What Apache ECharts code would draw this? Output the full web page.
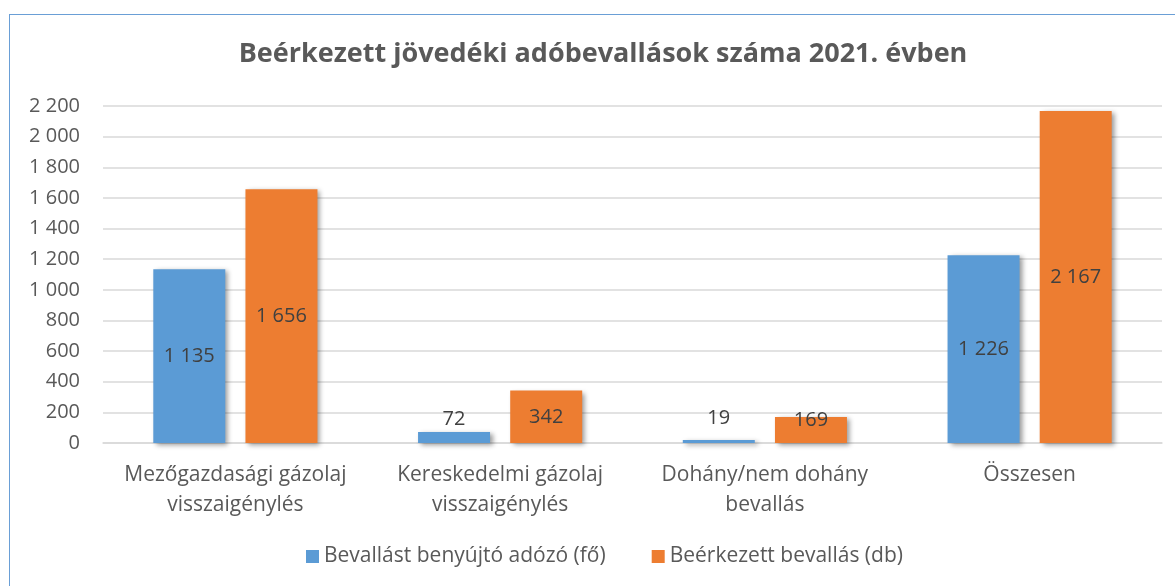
<!DOCTYPE html>
<html>
<head>
<meta charset="utf-8">
<script src="https://cdn.jsdelivr.net/npm/echarts@6/dist/echarts.min.js"></script>
<style>
  html, body { margin: 0; padding: 0; background: #fff; }
  #wrap { position: relative; width: 1175px; height: 586px; overflow: hidden; }
  #frame { position: absolute; left: 9px; top: 14px; width: 1200px; height: 620px; border: 1px solid #6a9fd6; box-sizing: border-box; }
  #chart { position: absolute; left: 0; top: 0; width: 1175px; height: 586px; }
</style>
</head>
<body>
<div id="wrap">
  <div id="frame"></div>
  <div id="chart"></div>
</div>
<script>
const categories = [
  'Mezőgazdasági gázolaj\nvisszaigénylés',
  'Kereskedelmi gázolaj\nvisszaigénylés',
  'Dohány/nem dohány\nbevallás',
  'Összesen'
]
const seriesNames = ['Bevallást benyújtó adózó (fő)', 'Beérkezett bevallás (db)']
const taxpayers = [1135, 72, 19, 1226]
const returns = [1656, 342, 169, 2167]

const font = '"Open Sans", sans-serif'
const fmt = v => String(v).replace(/\B(?=(\d{3})+(?!\d))/g, ' ')

// label placement per bar, roughly like the excel original
const bluePos = [
  { position: 'inside' },
  { position: 'top', distance: 3 },
  { position: 'top', distance: 12 },
  { position: 'inside' }
]
const orangePos = [
  { position: 'inside' },
  { position: 'inside' },
  { position: 'insideTop', distance: 5, offset: [0, -12] },
  { position: 'inside' }
]

const shadow = {
  shadowBlur: 5,
  shadowOffsetX: 3,
  shadowOffsetY: 2,
  shadowColor: 'rgba(0,0,0,0.4)'
}

const makeData = (vals, pos) => vals.map((v, i) => ({ value: v, label: pos[i] }))

const chart = echarts.init(document.getElementById('chart'))
chart.setOption({
  animation: false,
  textStyle: { fontFamily: font },
  title: {
    text: 'Beérkezett jövedéki adóbevallások száma 2021. évben',
    left: 598,
    textAlign: 'center',
    top: 36,
    textStyle: { fontFamily: font, fontSize: 27, fontWeight: 'bold', color: '#595959' }
  },
  legend: {
    data: seriesNames,
    left: 301,
    top: 541,
    itemWidth: 13,
    itemHeight: 13,
    itemGap: 46,
    itemStyle: { shadowBlur: 0, shadowOffsetX: 0, shadowOffsetY: 0 },
    icon: 'rect',
    textStyle: { fontFamily: font, fontSize: 21, color: '#595959' }
  },
  grid: { left: 103, right: 13, top: 106, bottom: 143 },
  xAxis: {
    type: 'category',
    data: categories,
    axisTick: { show: false },
    axisLine: { lineStyle: { color: '#d9d9d9', width: 1.5 } },
    axisLabel: { interval: 0, fontFamily: font, fontSize: 21, color: '#595959', lineHeight: 30, margin: 17 }
  },
  yAxis: {
    type: 'value',
    min: 0,
    max: 2200,
    interval: 200,
    axisLine: { show: false },
    axisTick: { show: false },
    splitLine: { lineStyle: { color: '#d9d9d9', width: 1.5 } },
    axisLabel: { fontFamily: font, fontSize: 20, color: '#595959', margin: 23, formatter: fmt }
  },
  series: [
    {
      name: seriesNames[0],
      type: 'bar',
      barWidth: 72,
      barGap: '28%',
      itemStyle: Object.assign({ color: '#5b9bd5' }, shadow),
      label: { show: true, fontFamily: font, fontSize: 20, color: '#404040', formatter: p => fmt(p.value) },
      data: makeData(taxpayers, bluePos)
    },
    {
      name: seriesNames[1],
      type: 'bar',
      barWidth: 72,
      itemStyle: Object.assign({ color: '#ed7d31' }, shadow),
      label: { show: true, fontFamily: font, fontSize: 20, color: '#404040', formatter: p => fmt(p.value) },
      data: makeData(returns, orangePos)
    }
  ]
})
</script>
</body>
</html>
